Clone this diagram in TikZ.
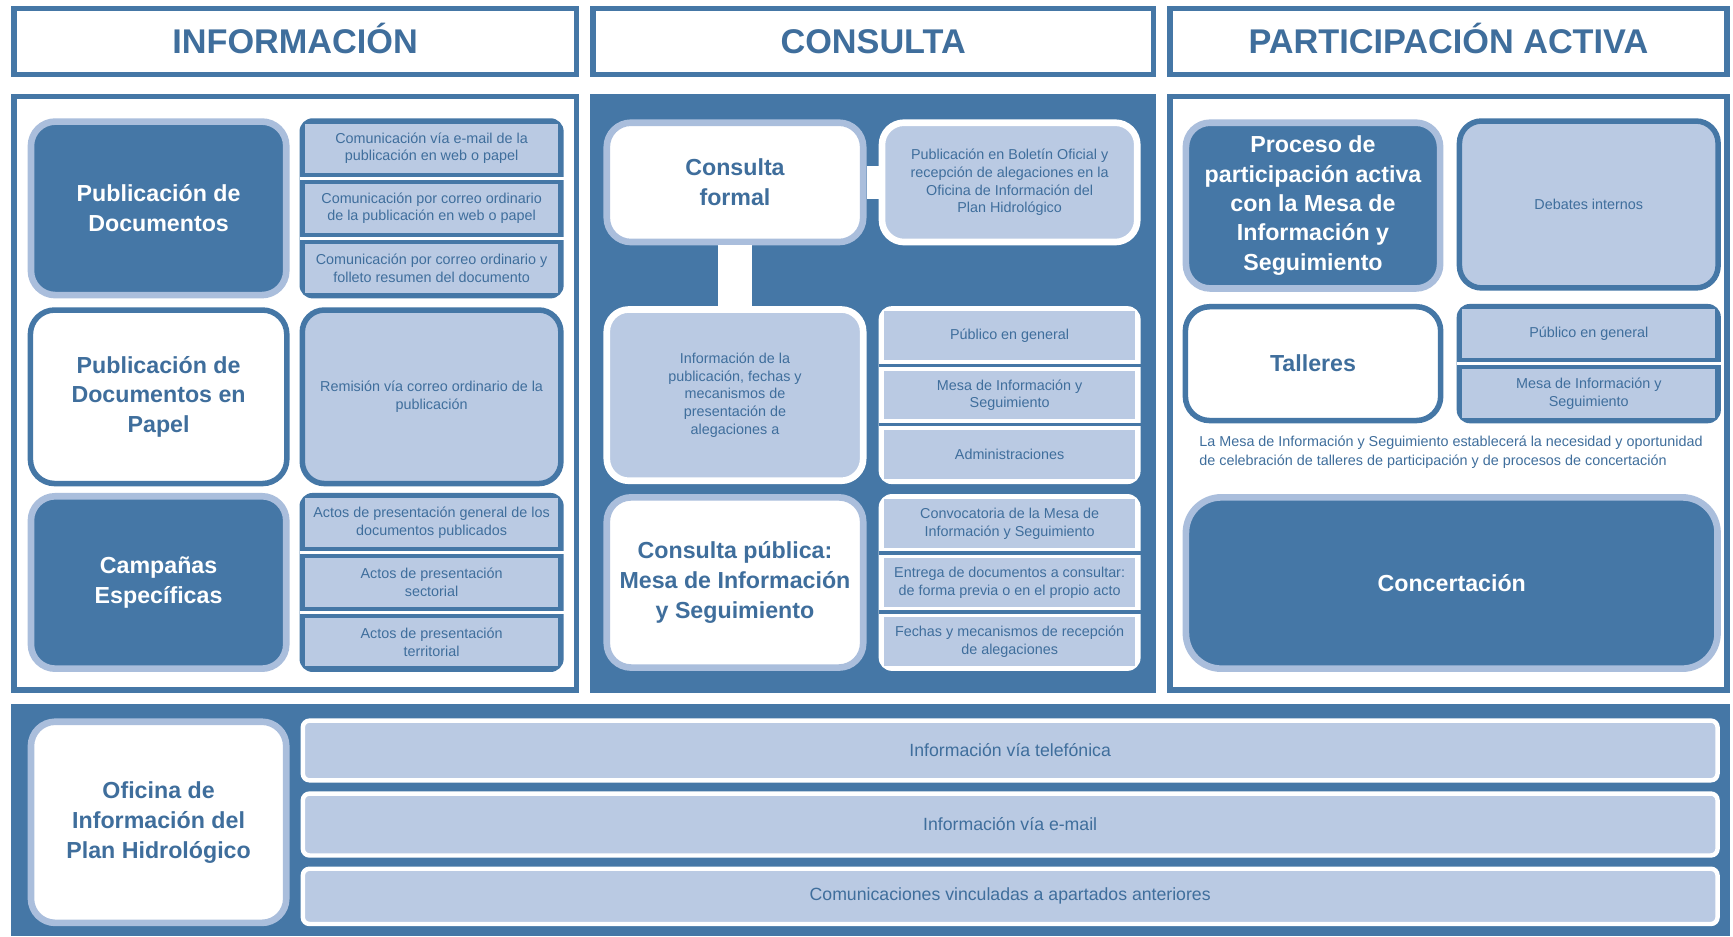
\documentclass[tikz,border=0pt]{standalone}
\usepackage{fontspec}
\setmainfont{Liberation Sans}

\definecolor{panelblue}{HTML}{4577A6}
\definecolor{ringblue}{HTML}{AABEDC}
\definecolor{liteblue}{HTML}{BACAE3}
\definecolor{textblue}{HTML}{3F6E9C}

\tikzset{
	hdr/.style={draw=panelblue,line width=5,fill=white,text=textblue,inner sep=0,minimum height=60,text height=22,text depth=0,font=\bfseries\fontsize{31}{33}\selectfont},
	big/.style={font=\bfseries\fontsize{21}{27}\selectfont,align=center,inner sep=0},
	small/.style={font=\fontsize{13}{16}\selectfont,text=textblue,align=center,inner sep=0},
	darkbox/.style={big,fill=panelblue,draw=ringblue,line width=6,rounded corners=22,text=white},
	whitebox/.style={big,fill=white,draw=panelblue,line width=5,rounded corners=22,text=textblue},
	ringbox/.style={big,fill=white,draw=ringblue,line width=6,rounded corners=22,text=textblue},
	litebox/.style={small,fill=liteblue,line width=6,rounded corners=20},
	item/.style={small,fill=liteblue,minimum height=44},
	bar/.style={small,font=\fontsize{16}{18}\selectfont,fill=liteblue,draw=white,line width=4,rounded corners=6,minimum width=1280},
	link/.style={white,line width=30}
}

\begin{document}
\begin{tikzpicture}[x=1pt,y=-1pt]
	\useasboundingbox (0,0) rectangle (1568,847);
	
	%headers
	\node[hdr,minimum width=509] (hinfo) at (267,37.5)	{INFORMACIÓN};
	\node[hdr,minimum width=507] (hcons) at (790,37.5)	{CONSULTA};
	\node[hdr,minimum width=504] (hpart) at (1310.5,37.5)	{PARTICIPACIÓN ACTIVA};
	
	%panels
	\draw[panelblue,line width=5,fill=white] (12.5,87.5) rectangle (521.5,624.5);	%informacion
	\fill[panelblue] (534,85) rectangle (1046,627);						%consulta
	\draw[panelblue,line width=5,fill=white] (1058.5,87.5) rectangle (1562.5,624.5);	%participacion
	\fill[panelblue] (10,637) rectangle (1565,847);						%oficina
	
	%informacion
	\node[darkbox,minimum width=231,minimum height=157] (pubdoc) at (143.5,188.5) {Publicación de\\Documentos};
	\fill[panelblue,rounded corners=12] (271,107) rectangle (510,270);
	\node[item,minimum width=229] (mail) at (390.5,134.2) {Comunicación vía e-mail de la\\publicación en web o papel};
	\node[item,minimum width=229] (correo) at (390.5,188.5) {Comunicación por correo ordinario\\de la publicación en web o papel};
	\node[item,minimum width=229] (folleto) at (390.5,242.8) {Comunicación por correo ordinario y\\folleto resumen del documento};
	\draw[white,line width=3] (271,161.3)--(510,161.3);
	\draw[white,line width=3] (271,215.7)--(510,215.7);
	%
	\node[whitebox,minimum width=232,minimum height=157] (papel) at (143.5,359) {Publicación de\\Documentos en\\Papel};
	\node[litebox,draw=panelblue,line width=5,minimum width=234,minimum height=157] (remision) at (390.5,359) {Remisión vía correo ordinario de la\\publicación};
	%
	\node[darkbox,minimum width=231,minimum height=156] (campanas) at (143.5,527) {Campañas\\Específicas};
	\fill[panelblue,rounded corners=12] (271,446) rectangle (510,608);
	\node[item,minimum width=229] (actgen) at (390.5,473) {Actos de presentación general de los\\documentos publicados};
	\node[item,minimum width=229] (actsec) at (390.5,527) {Actos de presentación\\sectorial};
	\node[item,minimum width=229] (actter) at (390.5,581) {Actos de presentación\\territorial};
	\draw[white,line width=3] (271,500)--(510,500);
	\draw[white,line width=3] (271,554)--(510,554);
	
	%consulta
	\node[ringbox,minimum width=232,minimum height=108] (formal) at (665,165) {Consulta\\formal};
	\node[litebox,draw=white,minimum width=231,minimum height=108] (boletin) at (913.5,165) {Publicación en Boletín Oficial y\\recepción de alegaciones en la\\Oficina de Información del\\Plan Hidrológico};
	\node[litebox,draw=white,minimum width=232,minimum height=155] (infopub) at (665,357.5) {Información de la\\publicación, fechas y\\mecanismos de\\presentación de\\alegaciones a};
	\draw[link] (formal.east)--(boletin.west);
	\draw[link,line width=31] (formal.south)--(infopub.north);
	%
	\fill[white,rounded corners=12] (795,277) rectangle (1032,438);
	\node[item,minimum width=227] (publico) at (913.5,303.8) {Público en general};
	\node[item,minimum width=227] (mesa) at (913.5,357.5) {Mesa de Información y\\Seguimiento};
	\node[item,minimum width=227] (admin) at (913.5,411.2) {Administraciones};
	\draw[panelblue,line width=3] (795,330.7)--(1032,330.7);
	\draw[panelblue,line width=3] (795,384.3)--(1032,384.3);
	%
	\node[ringbox,minimum width=232,minimum height=154] (publica) at (665,527) {Consulta pública:\\Mesa de Información\\y Seguimiento};
	\fill[white,rounded corners=12] (795,447) rectangle (1032,607);
	\node[item,minimum width=227] (convoca) at (913.5,473.7) {Convocatoria de la Mesa de\\Información y Seguimiento};
	\node[item,minimum width=227] (entrega) at (913.5,527) {Entrega de documentos a consultar:\\de forma previa o en el propio acto};
	\node[item,minimum width=227] (fechas) at (913.5,580.3) {Fechas y mecanismos de recepción\\de alegaciones};
	\draw[panelblue,line width=3] (795,500.3)--(1032,500.3);
	\draw[panelblue,line width=3] (795,553.7)--(1032,553.7);
	
	%participacion activa
	\node[darkbox,font=\bfseries\fontsize{21}{26.5}\selectfont,minimum width=230,minimum height=150] (proceso) at (1188,186) {Proceso de\\participación activa\\con la Mesa de\\Información y\\Seguimiento};
	\node[litebox,draw=panelblue,line width=5,minimum width=234,minimum height=151] (debates) at (1437.5,185) {Debates internos};
	\node[whitebox,minimum width=231,minimum height=103] (talleres) at (1188,329) {Talleres};
	\fill[panelblue,rounded corners=12] (1318,275) rectangle (1557,383);
	\node[item,minimum width=229] (tpublico) at (1437.5,302) {Público en general};
	\node[item,minimum width=229] (tmesa) at (1437.5,356) {Mesa de Información y\\Seguimiento};
	\draw[white,line width=3] (1318,329)--(1557,329);
	\node[small,align=left,font=\fontsize{13}{17}\selectfont,anchor=west] (nota) at (1085,409) {La Mesa de Información y Seguimiento establecerá la necesidad y oportunidad\\de celebración de talleres de participación y de procesos de concertación};
	\node[darkbox,rounded corners=32,minimum width=481,minimum height=155] (concerta) at (1313.5,527.5) {Concertación};
	
	%oficina
	\node[ringbox,minimum width=231,minimum height=182] (oficina) at (143.5,744) {Oficina de\\Información del\\Plan Hidrológico};
	\node[bar,minimum height=54] (tel) at (914,679) {Información vía telefónica};
	\node[bar,minimum height=56] (email) at (914,746) {Información vía e-mail};
	\node[bar,minimum height=50] (vincula) at (914,811) {Comunicaciones vinculadas a apartados anteriores};
\end{tikzpicture}
\end{document}
